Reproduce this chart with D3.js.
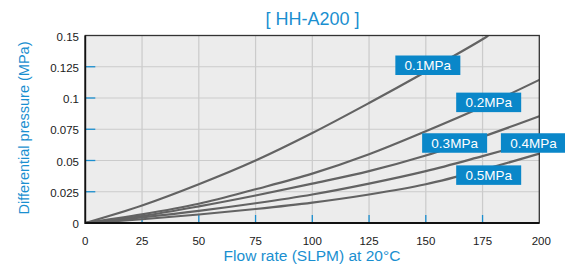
<!DOCTYPE html>
<html>
<head>
<meta charset="utf-8">
<script src="https://cdn.jsdelivr.net/npm/d3@7"></script>
<style>
  html, body { margin: 0; padding: 0; background: #fff; }
  svg { display: block; font-family: "Liberation Sans", Arial, Helvetica, sans-serif; }
</style>
</head>
<body>
<div id="chart"></div>
<script>
// values
const flow = [0, 25, 50, 75, 100, 125, 150, 175, 200];
const p01 = [0, 0.014, 0.031, 0.050, 0.072, 0.096, 0.121, 0.147];
const p01End = [177.5, 0.15];   // 0.1MPa line leaves the top of the frame here
const p02 = [0, 0.0069, 0.0154, 0.027, 0.0395, 0.055, 0.0734, 0.093, 0.1145];
const p03 = [0, 0.0056, 0.0133, 0.022, 0.0315, 0.0415, 0.054, 0.069, 0.0854];
const p04 = [0, 0.0045, 0.0097, 0.0158, 0.0228, 0.0315, 0.0415, 0.0535, 0.066];
const p05 = [0, 0.003, 0.0068, 0.0112, 0.0163, 0.0228, 0.031, 0.0425, 0.0555];
const seriesNames = ['0.1MPa', '0.2MPa', '0.3MPa', '0.4MPa', '0.5MPa'];
const xTicks = [0, 25, 50, 75, 100, 125, 150, 175, 200];
const yTicks = [0, 0.025, 0.05, 0.075, 0.1, 0.125, 0.15];
const yTickLabels = ['0', '0.025', '0.05', '0.075', '0.1', '0.125', '0.15'];

// where the tag boxes sit (centre, in data units)
const tagPos = [[150.9, 0.1262], [177.7, 0.0965], [162.7, 0.064], [197.4, 0.064], [177.7, 0.0383]];

const W = 565, H = 264;
const blue = '#1a8fd0', tagBlue = '#0a87c9';

const x = d3.scaleLinear().domain([0, 200]).range([85.3, 539.3]);
const y = d3.scaleLinear().domain([0, 0.15]).range([223, 35.5]);

const svg = d3.select('#chart').append('svg')
  .attr('width', W).attr('height', H);

svg.append('defs').append('clipPath').attr('id', 'plotClip')
  .append('rect')
  .attr('x', x(0)).attr('y', y(0.15))
  .attr('width', x(200) - x(0)).attr('height', y(0) - y(0.15));

// plot background
svg.append('rect')
  .attr('x', x(0)).attr('y', y(0.15))
  .attr('width', x(200) - x(0)).attr('height', y(0) - y(0.15))
  .attr('fill', '#ececec');

// grid
const grid = svg.append('g').attr('stroke', '#cbcbcb').attr('stroke-width', 1.2);
grid.selectAll('line.v').data(xTicks.slice(1, -1)).join('line')
  .attr('x1', d => x(d)).attr('x2', d => x(d))
  .attr('y1', y(0)).attr('y2', y(0.15));
grid.selectAll('line.h').data(yTicks.slice(1, -1)).join('line')
  .attr('x1', x(0)).attr('x2', x(200))
  .attr('y1', d => y(d)).attr('y2', d => y(d));

// blue inner ticks
const ticks = svg.append('g').attr('stroke', blue).attr('stroke-width', 1.3);
ticks.selectAll('line.xt').data(xTicks.slice(1, -1)).join('line')
  .attr('x1', d => x(d)).attr('x2', d => x(d))
  .attr('y1', y(0)).attr('y2', y(0) - 8);
ticks.selectAll('line.yt').data(yTicks.slice(1, -1)).join('line')
  .attr('x1', x(0)).attr('x2', x(0) + 10)
  .attr('y1', d => y(d)).attr('y2', d => y(d));

// curves
const rows = [
  flow.slice(0, p01.length).map((f, i) => [f, p01[i]]).concat([p01End]),
  flow.map((f, i) => [f, p02[i]]),
  flow.map((f, i) => [f, p03[i]]),
  flow.map((f, i) => [f, p04[i]]),
  flow.map((f, i) => [f, p05[i]])
];
const line = d3.line().x(d => x(d[0])).y(d => y(d[1])).curve(d3.curveCatmullRom.alpha(0.5));
svg.append('g').attr('clip-path', 'url(#plotClip)')
  .selectAll('path').data(rows).join('path')
  .attr('d', line)
  .attr('fill', 'none')
  .attr('stroke', '#636363')
  .attr('stroke-width', 2.2)
  .attr('stroke-linejoin', 'round');

// frame
svg.append('rect')
  .attr('x', x(0)).attr('y', y(0.15))
  .attr('width', x(200) - x(0)).attr('height', y(0) - y(0.15))
  .attr('fill', 'none').attr('stroke', '#333').attr('stroke-width', 1.3);
svg.append('path')
  .attr('d', `M${x(0)},${y(0.15)}V${y(0)}H${x(200)}`)
  .attr('fill', 'none').attr('stroke', '#111').attr('stroke-width', 1.8);

// pressure tags
const tagW = 65, tagH = 19.5;
const tags = svg.append('g').selectAll('g').data(seriesNames).join('g')
  .attr('transform', (d, i) => `translate(${x(tagPos[i][0])},${y(tagPos[i][1])})`);
tags.append('rect')
  .attr('x', -tagW / 2).attr('y', -tagH / 2)
  .attr('width', tagW).attr('height', tagH)
  .attr('fill', tagBlue);
tags.append('text')
  .attr('text-anchor', 'middle').attr('dy', '0.36em')
  .attr('fill', '#fff').style('font-size', '13.5px')
  .text(d => d);

// tick labels
svg.append('g').selectAll('text').data(xTicks).join('text')
  .attr('x', d => x(d) + (d === 200 ? 2 : 0)).attr('y', 245)
  .attr('text-anchor', 'middle').attr('fill', '#1a1a1a')
  .style('font-size', '11.5px')
  .text(d => d);
svg.append('g').selectAll('text').data(yTicks).join('text')
  .attr('x', 79).attr('y', d => y(d) + 1)
  .attr('dy', '0.35em')
  .attr('text-anchor', 'end').attr('fill', '#1a1a1a')
  .style('font-size', '11.5px')
  .text((d, i) => yTickLabels[i]);

// titles
svg.append('text')
  .attr('x', 312.5).attr('y', 24.5)
  .attr('text-anchor', 'middle').attr('fill', blue)
  .style('font-size', '18px')
  .text('[ HH-A200 ]');
svg.append('text')
  .attr('x', 312).attr('y', 261)
  .attr('text-anchor', 'middle').attr('fill', blue)
  .style('font-size', '15.5px')
  .text('Flow rate (SLPM) at 20°C');
svg.append('text')
  .attr('transform', 'translate(28.5,128) rotate(-90)')
  .attr('text-anchor', 'middle').attr('fill', blue)
  .style('font-size', '14.5px')
  .text('Differential pressure (MPa)');
</script>
</body>
</html>
